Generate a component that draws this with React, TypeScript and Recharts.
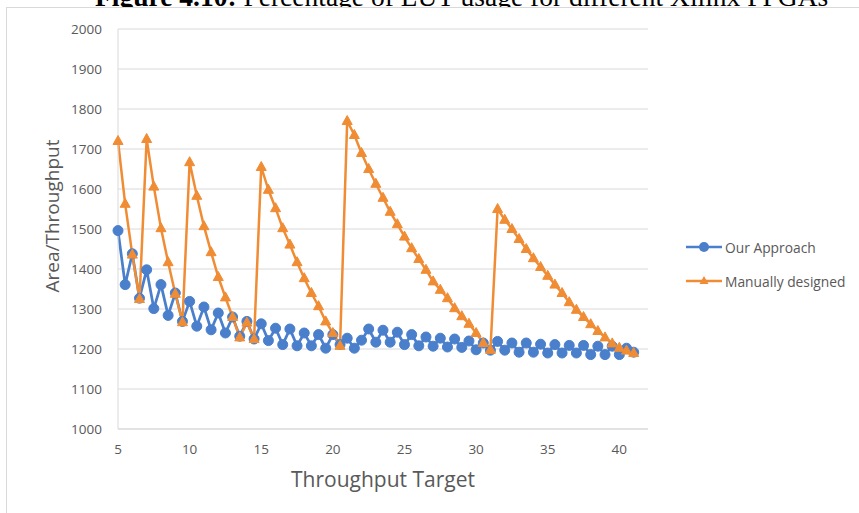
import React from 'react';
import { LineChart, Line, XAxis, YAxis, CartesianGrid, Label } from 'recharts';

// throughput targets (x)
const targets = [
  5, 5.5, 6, 6.5, 7, 7.5, 8, 8.5, 9, 9.5, 10, 10.5, 11, 11.5, 12, 12.5, 13, 13.5, 14, 14.5,
  15, 15.5, 16, 16.5, 17, 17.5, 18, 18.5, 19, 19.5, 20, 20.5, 21, 21.5, 22, 22.5, 23, 23.5,
  24, 24.5, 25, 25.5, 26, 26.5, 27, 27.5, 28, 28.5, 29, 29.5, 30, 30.5, 31, 31.5, 32, 32.5,
  33, 33.5, 34, 34.5, 35, 35.5, 36, 36.5, 37, 37.5, 38, 38.5, 39, 39.5, 40, 40.5, 41,
];

const ourApproach = [
  1496, 1361, 1438, 1327, 1398, 1301, 1361, 1284, 1340, 1269, 1319, 1257, 1305, 1248, 1290, 1240, 1280, 1232, 1269, 1225,
  1263, 1221, 1252, 1211, 1250, 1208, 1240, 1208, 1236, 1202, 1236, 1211, 1227, 1202, 1222, 1250, 1217, 1247,
  1217, 1242, 1211, 1236, 1208, 1230, 1207, 1227, 1205, 1225, 1204, 1220, 1198, 1215, 1197, 1219, 1197, 1215,
  1192, 1215, 1192, 1212, 1190, 1211, 1190, 1209, 1190, 1209, 1186, 1207, 1186, 1207, 1186, 1202, 1192,
];

const manuallyDesigned = [
  1720, 1563, 1436, 1325, 1725, 1606, 1502, 1417, 1338, 1267, 1667, 1583, 1507, 1442, 1380, 1329, 1280, 1229, 1266, 1225,
  1655, 1598, 1552, 1502, 1461, 1417, 1377, 1340, 1307, 1269, 1240, 1208, 1770, 1735, 1690, 1650, 1613, 1578,
  1543, 1512, 1481, 1452, 1425, 1398, 1369, 1348, 1327, 1302, 1282, 1263, 1240, 1215, 1198, 1550, 1523, 1500,
  1475, 1450, 1427, 1405, 1383, 1361, 1340, 1317, 1298, 1280, 1262, 1245, 1229, 1214, 1203, 1196, 1190,
];

const xTicks = [5, 10, 15, 20, 25, 30, 35, 40];
const yTicks = [1000, 1100, 1200, 1300, 1400, 1500, 1600, 1700, 1800, 1900, 2000];

const data = targets.map((x, i) => ({ x, ours: ourApproach[i], manual: manuallyDesigned[i] }));

const BLUE = '#4a7fcc';
const ORANGE = '#f08c34';
const GREY_TEXT = '#595959';
const GRID = '#d9d9d9';
const FONT = '"Open Sans", sans-serif';

const Triangle = (props: any) => {
  const { cx, cy } = props;
  if (cx == null || cy == null) return null;
  return (
    <path
      d={`M${cx},${cy - 5.5} L${cx + 5},${cy + 3.5} L${cx - 5},${cy + 3.5} Z`}
      fill={ORANGE}
      stroke={ORANGE}
      strokeWidth={1}
    />
  );
};

const LegendBox = () => (
  <div style={{ position: 'absolute', left: 686, top: 236, fontFamily: FONT, fontSize: 13.8, color: GREY_TEXT }}>
    <div style={{ display: 'flex', alignItems: 'center', height: 22 }}>
      <svg width={36} height={12}>
        <line x1={0} y1={6} x2={36} y2={6} stroke={BLUE} strokeWidth={2.5} />
        <circle cx={18} cy={6} r={5} fill={BLUE} />
      </svg>
      <span style={{ marginLeft: 3 }}>Our Approach</span>
    </div>
    <div style={{ display: 'flex', alignItems: 'center', height: 22, marginTop: 12 }}>
      <svg width={36} height={12}>
        <line x1={0} y1={6} x2={36} y2={6} stroke={ORANGE} strokeWidth={2.5} />
        <path d="M18,1 L22.5,9 L13.5,9 Z" fill={ORANGE} />
      </svg>
      <span style={{ marginLeft: 3 }}>Manually designed</span>
    </div>
  </div>
);

export default function App() {
  return (
    <div style={{ position: 'absolute', left: 0, top: 0, width: 859, height: 513, overflow: 'hidden', background: '#fff' }}>
      <div
        style={{
          position: 'absolute',
          top: -19.5,
          left: 95,
          whiteSpace: 'nowrap',
          fontFamily: '"Liberation Serif", serif',
          fontSize: 27.5,
          lineHeight: 'normal',
          color: '#000',
        }}
      >
        <b>Figure 4.10:</b> Percentage of LUT usage for different Xilinx FPGAs
      </div>
      <div
        style={{
          position: 'absolute',
          left: 6,
          top: 7,
          width: 900,
          height: 600,
          background: '#fff',
          borderLeft: `1px solid ${GRID}`,
          borderTop: `1px solid ${GRID}`,
        }}
      />
      <div style={{ position: 'absolute', left: 0, top: 0 }}>
        <LineChart width={859} height={513} data={data} margin={{ top: 29, right: 211, bottom: 54, left: 0 }}>
          <CartesianGrid horizontal vertical={false} stroke={GRID} strokeWidth={1} />
          <XAxis
            type="number"
            dataKey="x"
            domain={[5, 42]}
            ticks={xTicks}
            height={30}
            tickSize={0}
            tickMargin={15}
            axisLine={{ stroke: GRID }}
            tick={{ fill: GREY_TEXT, fontSize: 13.5, fontFamily: FONT }}
          >
            <Label
              value="Throughput Target"
              position="bottom"
              offset={13}
              style={{ fill: GREY_TEXT, fontSize: 21, fontFamily: FONT }}
            />
          </XAxis>
          <YAxis
            type="number"
            domain={[1000, 2000]}
            ticks={yTicks}
            width={118}
            tickSize={0}
            tickMargin={16}
            axisLine={{ stroke: GRID }}
            tick={{ fill: GREY_TEXT, fontSize: 13.5, fontFamily: FONT }}
          >
            <Label
              content={() => (
                <text
                  x={52}
                  y={216}
                  transform="rotate(-90 52 216)"
                  textAnchor="middle"
                  dominantBaseline="central"
                  fill={GREY_TEXT}
                  fontSize={19}
                  fontFamily={FONT}
                >
                  Area/Throughput
                </text>
              )}
            />
          </YAxis>
          <Line
            type="linear"
            dataKey="ours"
            name="Our Approach"
            stroke={BLUE}
            strokeWidth={2.75}
            dot={{ r: 5, fill: BLUE, stroke: BLUE, strokeWidth: 1 }}
            activeDot={false}
            isAnimationActive={false}
          />
          <Line
            type="linear"
            dataKey="manual"
            name="Manually designed"
            stroke={ORANGE}
            strokeWidth={2.5}
            dot={<Triangle />}
            activeDot={false}
            isAnimationActive={false}
          />
        </LineChart>
      </div>
      <LegendBox />
    </div>
  );
}
